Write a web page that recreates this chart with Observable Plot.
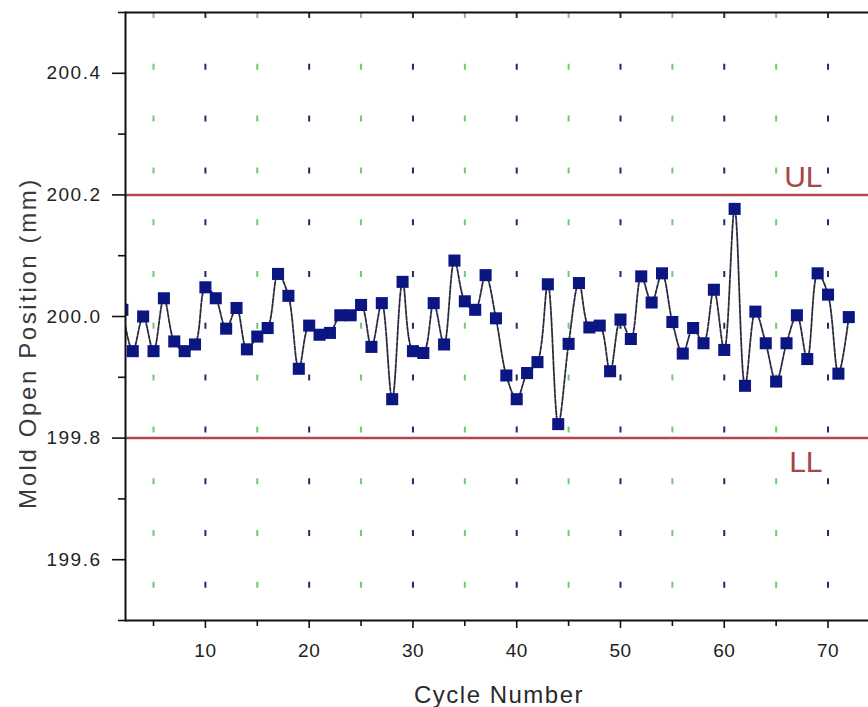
<!DOCTYPE html>
<html>
<head>
<meta charset="utf-8">
<script src="https://cdn.jsdelivr.net/npm/d3@7"></script>
<script src="https://cdn.jsdelivr.net/npm/@observablehq/plot@0.6"></script>
<style>
  html, body { margin: 0; padding: 0; background: #fff; }
  #chart svg { display: block; }
</style>
</head>
<body>
<div id="chart"></div>
<script>
// ---- data ----
const cycles = [2,3,4,5,6,7,8,9,10,11,12,13,14,15,16,17,18,19,20,21,22,23,24,25,26,27,28,29,30,31,32,33,34,35,36,37,38,39,40,41,42,43,44,45,46,47,48,49,50,51,52,53,54,55,56,57,58,59,60,61,62,63,64,65,66,67,68,69,70,71,72];
const positions = [
  200.011, 199.943, 200.000, 199.943, 200.030, 199.959, 199.943, 199.954, 200.048, 200.030,
  199.980, 200.014, 199.946, 199.967, 199.981, 200.070, 200.034, 199.914, 199.985, 199.970,
  199.973, 200.002, 200.002, 200.019, 199.950, 200.022, 199.864, 200.057, 199.943, 199.940,
  200.022, 199.954, 200.092, 200.025, 200.011, 200.068, 199.997, 199.903, 199.864, 199.907,
  199.925, 200.053, 199.823, 199.955, 200.055, 199.982, 199.985, 199.910, 199.995, 199.963,
  200.066, 200.023, 200.071, 199.991, 199.939, 199.981, 199.956, 200.044, 199.945, 200.177,
  199.886, 200.008, 199.956, 199.893, 199.956, 200.002, 199.930, 200.071, 200.036, 199.906,
  199.999
];
const limitLabels = ["UL", "LL"];
const limitValues = [200.2, 199.8];
const yTickLabels = [199.6, 199.8, 200.0, 200.2, 200.4];
const yMinorTicks = [199.5, 199.7, 199.9, 200.1, 200.3, 200.5];
const xTickLabels = [10, 20, 30, 40, 50, 60, 70];
const xMinorTicks = [5, 15, 25, 35, 45, 55, 65];
const xTitle = "Cycle Number";
const yTitle = "Mold Open Position (mm)";

const data = cycles.map((c, i) => ({cycle: c, pos: positions[i]}));
const limits = limitLabels.map((l, i) => ({label: l, value: limitValues[i]}));

const FONT = "'Liberation Sans', Arial, Helvetica, sans-serif";
const limitColor = "#b2474e";

const chart = Plot.plot({
  width: 868,
  height: 707,
  marginLeft: 125,
  marginRight: 0,
  marginTop: 12,
  marginBottom: 87,
  style: {fontFamily: FONT, background: "#fff", overflow: "visible"},
  x: {domain: [2.3, 73.9], label: null},
  y: {domain: [199.5, 200.5], label: null},
  marks: [
    // dashed vertical grid columns
    Plot.ruleX(xMinorTicks, {stroke: "#74c874", strokeWidth: 2, strokeDasharray: "6,45.8"}),
    Plot.ruleX(xTickLabels, {stroke: "#222a66", strokeWidth: 2, strokeDasharray: "6,45.8"}),
    // control limits
    Plot.ruleY(limits, {y: "value", stroke: limitColor, strokeWidth: 2.5}),
    Plot.text(limits.filter(d => d.label === "UL"), {
      y: "value", text: "label", frameAnchor: "right", textAnchor: "end", dx: -46, dy: -17.5,
      lineAnchor: "middle", fill: "#a8444a", fontSize: 30, fontFamily: FONT
    }),
    Plot.text(limits.filter(d => d.label === "LL"), {
      y: "value", text: "label", frameAnchor: "right", textAnchor: "end", dx: -46, dy: 24,
      lineAnchor: "middle", fill: "#a8444a", fontSize: 30, fontFamily: FONT
    }),
    // series
    Plot.line(data, {x: "cycle", y: "pos", stroke: "#2a2a3c", strokeWidth: 1.8,
      strokeDasharray: "4,1.5", curve: "catmull-rom", clip: true}),
    Plot.dot(data, {x: "cycle", y: "pos", symbol: "square", r: 6.8, fill: "#0b1683", stroke: "none", clip: true}),
    // frame lines
    Plot.frame({anchor: "left", stroke: "#111", strokeWidth: 2}),
    Plot.ruleY([199.5, 200.5], {stroke: "#111", strokeWidth: 2}),
    // axes
    Plot.axisY(yTickLabels, {tickSize: 13, tickPadding: 11, tickFormat: d => d.toFixed(1),
      fontSize: 19, fill: "#222", stroke: "#111", strokeWidth: 1.6, label: null}),
    Plot.axisY(yMinorTicks, {tickSize: 7, tickFormat: () => "", stroke: "#111", strokeWidth: 1.6, label: null}),
    Plot.axisX(xTickLabels, {tickSize: 8, tickPadding: 15, tickFormat: d => String(d),
      fontSize: 19, fill: "#222", stroke: "#111", strokeWidth: 1.6, label: null}),
    Plot.axisX(xMinorTicks, {tickSize: 6, tickFormat: () => "", stroke: "#111", strokeWidth: 1.6, label: null})
  ]
});

document.getElementById("chart").appendChild(chart);

const svg = d3.select(chart);
svg.selectAll('g[aria-label="y-axis tick label"] text').attr("letter-spacing", "1.5px");
svg.selectAll('g[aria-label="x-axis tick label"] text').attr("letter-spacing", "0.5px");

// the reference's y title is cropped along its glyph tops
svg.append("defs").append("clipPath").attr("id", "ytitle-clip")
  .append("rect").attr("x", 19).attr("y", 0).attr("width", 100).attr("height", 707);

svg.append("g")
  .attr("clip-path", "url(#ytitle-clip)")
  .append("text")
  .attr("transform", "translate(36,343) rotate(-90)")
  .attr("text-anchor", "middle")
  .attr("font-family", FONT)
  .attr("font-size", 24)
  .attr("letter-spacing", "2.6px")
  .attr("fill", "#3a3a3a")
  .text(yTitle);

svg.append("text")
  .attr("x", 499)
  .attr("y", 703)
  .attr("text-anchor", "middle")
  .attr("font-family", FONT)
  .attr("font-size", 24)
  .attr("letter-spacing", "1.5px")
  .attr("fill", "#2a2a2a")
  .text(xTitle);
</script>
</body>
</html>
